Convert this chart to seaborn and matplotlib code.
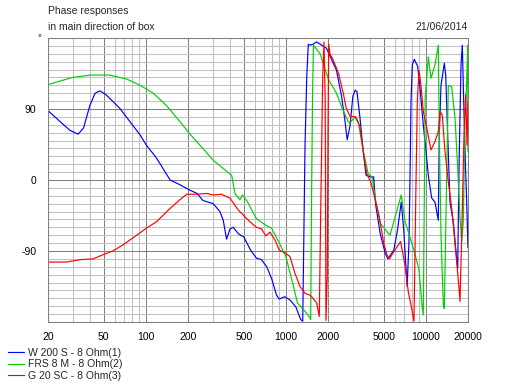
import numpy as np
import pandas as pd
import matplotlib
matplotlib.use("Agg")
import matplotlib.pyplot as plt
import matplotlib.ticker as mticker
import seaborn as sns

# series names (legend order)
series_names = ["W 200 S - 8 Ohm(1)", "FRS 8 M - 8 Ohm(2)", "G 20 SC - 8 Ohm(3)"]
series_colors = ["#0000ff", "#00d000", "#ff0000"]

# phase in degrees, wrapped to +-180
w200_freq = [20, 24.4, 28.7, 32.8, 35.9, 39.9, 43.4, 47, 52, 65, 77, 91, 101, 119, 149, 175, 207,
             232, 256, 303, 338, 357, 377, 399, 421, 457, 500, 560, 616, 670, 730, 791, 858, 898,
             980, 1070, 1180, 1277, 1320, 1370, 1409, 1446, 1490, 1560, 1660, 1800, 1950, 2130,
             2300, 2500, 2640, 2740, 2870, 3010, 3130, 3220, 3380, 3560, 3740, 4030, 4240, 4370,
             4720, 5130, 5350, 5900, 6280, 6670, 6950, 7096, 7350, 7580, 7706, 7833, 8000, 8268,
             8744, 9082, 9588, 9976, 10410, 11010, 11624, 12272, 12474, 12828, 13546, 13860,
             14322, 14872, 15704, 16336, 16884, 17250, 17826, 18212, 18512, 19040, 19576, 20000]
w200_phase = [88, 74, 63, 58, 66, 95, 110, 113, 108, 91, 74, 57, 44, 28, 0, -6, -13,
              -17, -26, -30, -40, -51, -75, -62, -60, -68, -72, -89, -99, -101, -110, -125, -146, -151,
              -148, -152, -161, -177, -179, 42, 129, 172, 171, 172, 175, 171, 167, 152,
              139, 106, 76, 51, 68, 106, 114, 112, 80, 38, 6, 4, 4, -30,
              -68, -93, -100, -89, -63, -28, -63, -90, -135, -78, 2, 99, 146, 153,
              144, 116, 70, 40, 6, -23, -28, -51, 57, 120, 148, 133,
              57, -28, -53, -87, -112, 15, 146, 171, 120, 36, -28, -86]

frs8_freq = [20, 30, 40, 55, 73, 91, 113, 141, 175, 207, 244, 303, 410, 433, 470, 490, 533, 616,
             728, 791, 898, 1000, 1120, 1210, 1380, 1490, 1504, 1530, 1552, 1575, 1754, 1880,
             2020, 2300, 2500, 2790, 2870, 3100, 3300, 3560, 3870, 4120, 4370, 4720, 5540, 5900,
             6670, 7096, 7924, 8228, 8934, 9400, 9588, 9890, 10410, 10884, 11624, 12272, 12474,
             12828, 13324, 13546, 14092, 14464, 15296, 16148, 16884, 17538, 18032, 18512, 19040,
             19576, 19900, 20000]
frs8_phase = [121, 130, 133, 133, 128, 120, 110, 94, 74, 58, 44, 25, 6, -17, -25, -19, -28, -49,
              -58, -61, -80, -97, -131, -156, -167, -175, -177, -2, 112, 171, 160, 144,
              127, 110, 93, 74, 72, 80, 72, 38, 8, 4, -25, -55, -70, -53,
              -19, -52, -80, -89, -114, -160, -171, 104, 156, 129, 146, 171, 57,
              -70, -158, -163, 6, 120, 118, 79, 15, -48, -78, -53, 79,
              125, 171, 36]

g20_freq = [20, 27, 34, 42, 49, 58, 69, 86, 101, 119, 149, 175, 196, 232, 272, 303, 347, 399,
            457, 554, 616, 670, 720, 770, 836, 898, 980, 1070, 1160, 1262, 1380, 1490, 1530,
            1660, 1733, 1774, 1833, 1872, 1910, 1934, 1977, 2000, 2023, 2066, 2180, 2380, 2570,
            2700, 2870, 3160, 3380, 3560, 3780, 4030, 4240, 4640, 5000, 5270, 5500, 5900, 6600,
            7096, 7494, 7924, 8228, 8460, 8688, 8934, 9234, 9588, 10140, 10884, 11624, 12272,
            12619, 13106, 13700, 14464, 15296, 15964, 16608, 17250, 17538, 18032, 18728, 19260,
            19674, 20000]
g20_phase = [-104, -104, -101, -100, -95, -90, -82, -70, -61, -53, -36, -25, -18, -18, -17, -19, -18, -23,
             -38, -53, -60, -62, -71, -66, -76, -89, -92, -97, -118, -135, -144, -146, -148,
             -156, -173, -40, 130, 175, 100, -178, -120, 60, 172, 160, 152, 135, 110,
             91, 81, 80, 68, 38, 8, -2, -17, -46, -80, -95, -100, -91, -78,
             -108, -142, -163, -179, -28, 99, 139, 120, 87, 66, 38, 49, 61,
             87, 82, 36, -2, -36, -70, -104, -137, -154, -70, 57, 108,
             44, 99]

x_major = [20, 50, 100, 200, 500, 1000, 2000, 5000, 10000, 20000]
x_labels = ["20", "50", "100", "200", "500", "1000", "2000", "5000", "10000", "20000"]
x_minor = [d * k for d in (10, 100, 1000, 10000) for k in range(2, 10)
           if 20 <= d * k <= 20000 and d * k not in x_major]

frames = []
for name, f, p in zip(series_names,
                      [w200_freq, frs8_freq, g20_freq],
                      [w200_phase, frs8_phase, g20_phase]):
    frames.append(pd.DataFrame({"freq": f, "phase": p, "series": name}))
df = pd.concat(frames, ignore_index=True)

sns.set_theme(style="white")
plt.rcParams["font.family"] = ["Liberation Sans", "DejaVu Sans"]

fig = plt.figure(figsize=(5.14, 3.86), dpi=100)
ax = fig.add_axes([48 / 514, 1 - 322 / 386, 420 / 514, 284 / 386])

sns.lineplot(data=df, x="freq", y="phase", hue="series", hue_order=series_names,
             palette=series_colors, sort=False, estimator=None, linewidth=0.85, ax=ax)

ax.set_xscale("log")
ax.set_xlim(20, 20000)
ax.set_ylim(-180, 180)
ax.xaxis.set_major_locator(mticker.FixedLocator(x_major))
ax.xaxis.set_major_formatter(mticker.FixedFormatter(x_labels))
ax.xaxis.set_minor_locator(mticker.FixedLocator(x_minor))
ax.xaxis.set_minor_formatter(mticker.NullFormatter())
ax.set_yticks([-90, 0, 90])
ax.set_yticklabels(["-90", "0", "90"])
ax.yaxis.set_minor_locator(mticker.MultipleLocator(10))

ax.grid(which="minor", color="#c0c0c0", linewidth=0.75)
ax.grid(which="major", color="#808080", linewidth=0.75)
ax.set_axisbelow(True)
for s in ax.spines.values():
    s.set_color("#808080")
    s.set_linewidth(0.75)

ax.tick_params(axis="both", which="major", direction="out", length=3, width=0.75,
               color="#000000", labelsize=7.5, labelcolor="black")
ax.tick_params(axis="x", which="major", pad=4)
ax.tick_params(axis="y", which="major", pad=5.5)
ax.tick_params(axis="both", which="minor", length=0)
ax.set_xlabel("")
ax.set_ylabel("")

ax.text(-0.016, 1.0, "°", transform=ax.transAxes, ha="right", va="center", fontsize=7)

fig.text(48 / 514, 1 - 14 / 386, "Phase responses", fontsize=7.5, va="baseline", ha="left")
fig.text(48 / 514, 1 - 30.5 / 386, "in main direction of box", fontsize=7.5, va="baseline", ha="left")
fig.text(468 / 514, 1 - 30.5 / 386, "21/06/2014", fontsize=7.5, va="baseline", ha="right")

handles, labels = ax.get_legend_handles_labels()
ax.get_legend().remove()
fig.legend(handles, labels, loc="upper left", bbox_to_anchor=(8 / 514, 1 - 347.5 / 386),
           frameon=False, fontsize=7.5, handlelength=1.55, handletextpad=0.4,
           labelspacing=0.17, borderpad=0, borderaxespad=0)

fig.savefig("out.png", dpi=100)
